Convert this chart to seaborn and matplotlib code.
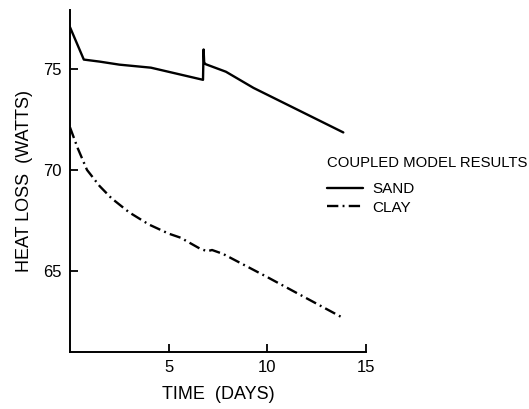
import matplotlib
matplotlib.use("Agg")
import matplotlib.pyplot as plt
from matplotlib.lines import Line2D
import seaborn as sns
import pandas as pd

# Heat loss from the coupled model, per soil type
sand_days = [0.0, 0.7, 1.5, 2.5, 4.1, 6.74, 6.77, 6.80, 6.88, 7.9, 9.3, 13.85]
sand_watts = [77.05, 75.45, 75.35, 75.2, 75.05, 74.45, 75.95, 75.3, 75.22, 74.85, 74.05, 71.85]

clay_days = [0.0, 0.4, 0.86, 1.5, 2.1, 3.0, 4.0, 5.0, 5.6, 6.6, 6.95, 7.2, 7.75, 10.0, 13.9]
clay_watts = [72.1, 71.05, 70.0, 69.2, 68.6, 67.9, 67.3, 66.85, 66.65, 66.1, 65.98, 66.04, 65.85, 64.7, 62.65]

x_ticks = [5, 10, 15]
y_ticks = [65, 70, 75]

df = pd.concat([
    pd.DataFrame({"days": sand_days, "watts": sand_watts, "soil": "SAND"}),
    pd.DataFrame({"days": clay_days, "watts": clay_watts, "soil": "CLAY"}),
], ignore_index=True)

CLAY_DASH = (4.8, 1.8, 0.8, 1.8)
LW = 1.7

sns.set_style("white")
plt.rcParams["font.family"] = ["Liberation Sans", "DejaVu Sans"]
plt.rcParams["text.color"] = "black"
plt.rcParams["axes.labelcolor"] = "black"

fig = plt.figure(figsize=(5.29, 4.09), dpi=100)
ax = fig.add_axes([70 / 529, 1 - 352 / 409, (366 - 70) / 529, (352 - 10) / 409])

sns.lineplot(
    data=df, x="days", y="watts", hue="soil", style="soil",
    palette={"SAND": "black", "CLAY": "black"},
    dashes={"SAND": "", "CLAY": CLAY_DASH},
    linewidth=LW, estimator=None, sort=False, legend=False, ax=ax,
)

ax.set_xlim(0, 15)
ax.set_ylim(61, 77.9)
ax.set_xticks(x_ticks)
ax.set_yticks(y_ticks)
ax.tick_params(direction="in", length=6, width=1.3, labelsize=12, pad=6,
               colors="black", left=True, bottom=True)
for side in ("top", "right"):
    ax.spines[side].set_visible(False)
for side in ("left", "bottom"):
    ax.spines[side].set_color("black")
    ax.spines[side].set_linewidth(1.4)

ax.set_xlabel("TIME  (DAYS)", fontsize=13, labelpad=8)
ax.set_ylabel("HEAT LOSS  (WATTS)", fontsize=13, labelpad=7)

# Legend block to the right of the plot area
fig.text(327 / 529, 1 - 163 / 409, "COUPLED MODEL RESULTS",
         fontsize=10.7, ha="left", va="center")
handles = [
    Line2D([], [], color="black", lw=LW, ls="-"),
    Line2D([], [], color="black", lw=LW, ls=(0, CLAY_DASH)),
]
fig.legend(handles, ["SAND", "CLAY"], loc="upper left",
           bbox_to_anchor=(327 / 529, 1 - 182 / 409),
           frameon=False, fontsize=11, handlelength=2.35, handletextpad=0.6,
           labelspacing=0.3, borderaxespad=0, borderpad=0)

fig.savefig("out.png", dpi=100)
